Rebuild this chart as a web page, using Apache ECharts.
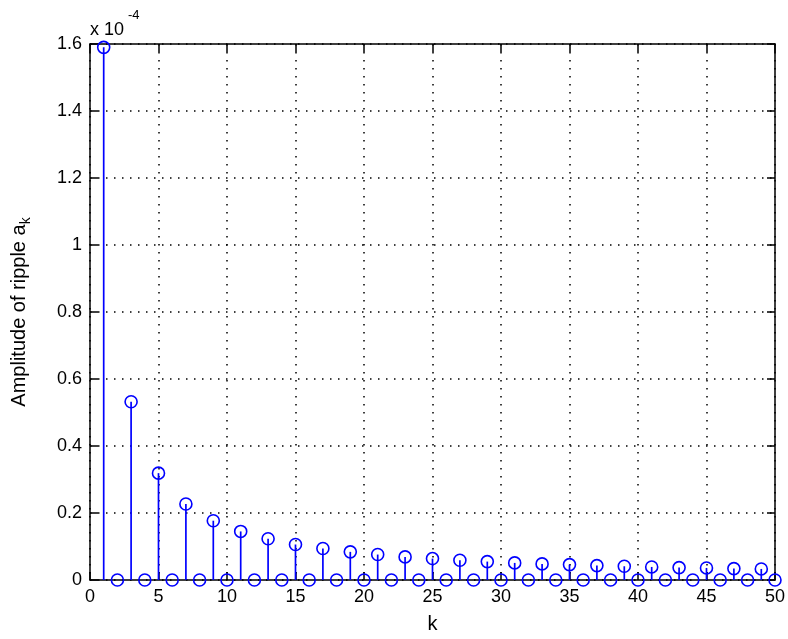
<!DOCTYPE html>
<html>
<head>
<meta charset="utf-8">
<script src="https://cdn.jsdelivr.net/npm/echarts@6/dist/echarts.min.js"></script>
<style>
html,body{margin:0;padding:0;background:#fff;}
#chart{width:788px;height:639px;}
</style>
</head>
<body>
<div id="chart"></div>
<script>
// Harmonic index k
const kValues = [1,2,3,4,5,6,7,8,9,10,11,12,13,14,15,16,17,18,19,20,21,22,23,24,25,26,27,28,29,30,31,32,33,34,35,36,37,38,39,40,41,42,43,44,45,46,47,48,49,50];
// Amplitude of ripple a_k, in units of 1e-4
const amplitudes = [1.59,0,0.532,0,0.319,0,0.227,0,0.177,0,0.145,0,0.123,0,0.106,0,0.094,0,0.084,0,0.076,0,0.069,0,0.064,0,0.059,0,0.055,0,0.051,0,0.048,0,0.046,0,0.043,0,0.041,0,0.039,0,0.037,0,0.036,0,0.034,0,0.033,0];
const scaleExponent = '-4';
const xTicks = {min: 0, max: 50, interval: 5};
const yTicks = {min: 0, max: 1.6, interval: 0.2};
const xLabel = 'k';
const yLabel = 'Amplitude of ripple a';
const ySub = 'k';

const FONT = "'Liberation Sans', Arial, sans-serif";
const BLUE = '#0000ff';
const data = kValues.map((k, i) => [k, amplitudes[i]]);

const chart = echarts.init(document.getElementById('chart'), null, {renderer: 'canvas'});

const axisLine = {show: true, onZero: false, lineStyle: {color: '#000', width: 1.5}};
const tick = {show: true, inside: true, length: 8, lineStyle: {color: '#000', width: 1.5}};
const grid = {show: true, lineStyle: {color: '#000', width: 1.5, type: [1.5, 6.5]}};

chart.setOption({
  animation: false,
  backgroundColor: '#fff',
  grid: {left: 90, right: 10, top: 44, bottom: 54, containLabel: false},
  xAxis: [
    {type: 'value', position: 'bottom', min: xTicks.min, max: xTicks.max, interval: xTicks.interval,
     axisLine, axisTick: tick, splitLine: grid,
     axisLabel: {color: '#000', fontFamily: FONT, fontSize: 18, margin: 8},
     name: xLabel, nameLocation: 'middle', nameGap: 34,
     nameTextStyle: {color: '#000', fontFamily: FONT, fontSize: 20}},
    {type: 'value', position: 'top', min: xTicks.min, max: xTicks.max, interval: xTicks.interval,
     axisLine, axisTick: tick, splitLine: {show: false}, axisLabel: {show: false}}
  ],
  yAxis: [
    {type: 'value', position: 'left', min: yTicks.min, max: yTicks.max, interval: yTicks.interval,
     axisLine, axisTick: tick, splitLine: grid,
     axisLabel: {color: '#000', fontFamily: FONT, fontSize: 18, margin: 8},
     name: '{m|' + yLabel + '}{s|' + ySub + '}', nameLocation: 'middle', nameGap: 57, nameRotate: 90,
     nameTextStyle: {color: '#000', fontFamily: FONT, fontSize: 20,
       rich: {m: {fontFamily: FONT, fontSize: 20, color: '#000', verticalAlign: 'top', lineHeight: 24},
              s: {fontFamily: FONT, fontSize: 14, color: '#000', verticalAlign: 'bottom', lineHeight: 24, padding: [10, 0, 0, 0]}}}},
    {type: 'value', position: 'right', min: yTicks.min, max: yTicks.max, interval: yTicks.interval,
     axisLine, axisTick: tick, splitLine: {show: false}, axisLabel: {show: false}}
  ],
  graphic: [
    {type: 'text', left: 90, top: 21, style: {text: 'x 10', font: '18px ' + FONT, fill: '#000'}, z: 100},
    {type: 'text', left: 128, top: 9, style: {text: scaleExponent, font: '13px ' + FONT, fill: '#000'}, z: 100}
  ],
  series: [
    {type: 'custom', xAxisIndex: 0, yAxisIndex: 0, clip: false, z: 5,
     data: data,
     renderItem: function (params, api) {
       const p0 = api.coord([api.value(0), 0]);
       const p1 = api.coord([api.value(0), api.value(1)]);
       return {type: 'line', shape: {x1: p0[0], y1: p0[1], x2: p1[0], y2: p1[1]},
               style: {stroke: BLUE, lineWidth: 1.7}};
     }},
    {type: 'scatter', xAxisIndex: 0, yAxisIndex: 0, clip: false, z: 6,
     data: data, symbol: 'circle', symbolSize: 12,
     itemStyle: {color: 'rgba(0,0,0,0)', borderColor: BLUE, borderWidth: 1.6, opacity: 1}}
  ]
});
</script>
</body>
</html>
